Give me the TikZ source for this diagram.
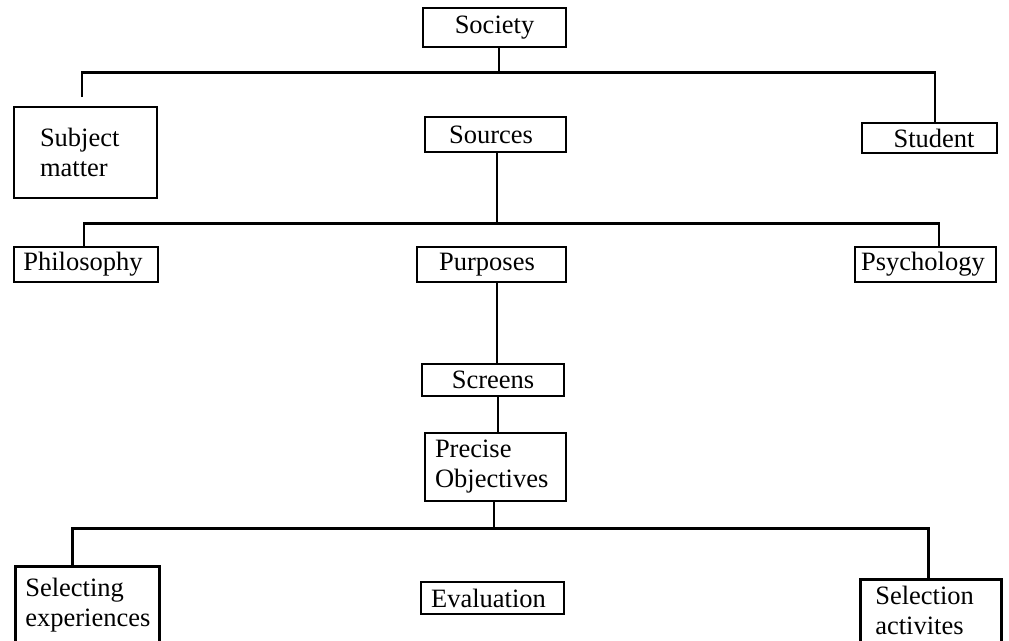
\documentclass[tikz,border=0pt]{standalone}
\usepackage{fontspec}
\setmainfont{Liberation Serif}
\begin{document}
\begin{tikzpicture}[x=1pt,y=-1pt,
  box/.style={draw=black, line width=2.6pt, fill=white, inner sep=0pt,
    font=\fontsize{26.5}{30}\selectfont},
  conn/.style={draw=black, line width=2.6pt, line join=miter}]
\useasboundingbox (0,0) rectangle (1009,640);
\clip (0,0) rectangle (1009,640);
\fill[white] (0,0) rectangle (1009,640);

% nodes
\node[box, minimum width=143pt, minimum height=39pt] (society) at (494.5,27.5) {Society};
\node[box, minimum height=91pt, inner xsep=26pt, text width=91pt, align=left] (subject) at (85.5,152.5) {Subject\\matter};
\node[box, minimum width=141pt, minimum height=35pt] (sources) at (495.5,134.5) {\hspace*{-9pt}Sources};
\node[box, minimum width=135pt, minimum height=30pt] (student) at (929.5,138) {\hspace*{9pt}Student};

\node[box, minimum width=144pt, minimum height=35pt] (philosophy) at (86,264.5) {\hspace*{-6pt}Philosophy};
\node[box, minimum width=149pt, minimum height=35pt] (purposes) at (491.5,264.5) {\hspace*{-9pt}Purposes};
\node[box, minimum width=141pt, minimum height=35pt] (psychology) at (925.5,264.5) {\hspace*{-5pt}Psychology};

\node[box, minimum width=142pt, minimum height=32pt] (screens) at (493,380) {Screens};
\node[box, minimum height=68pt, inner xsep=10pt, text width=121pt, align=left] (precise) at (495.5,467) {Precise\\Objectives};

\node[box, anchor=north west, inner xsep=10pt, inner ysep=12pt, text width=124pt, align=left] (selecting) at (14,565) {Selecting\\experiences};
\node[box, minimum width=143pt, minimum height=32pt] (evaluation) at (492.5,598) {\hspace*{-8pt}Evaluation};
\node[box, anchor=north west, inner xsep=15pt, inner ysep=7pt, text width=111pt, align=left] (selection) at (859,578) {Selection\\activites};

% connectors
\coordinate (subjtop) at (82,97);
\draw[conn] ([xshift=4.5pt]society.south) -- ++(0,24) coordinate (bus1);
\draw[conn] (subjtop) |- (bus1) -| ([xshift=5.5pt]student.north);

\draw[conn] ([xshift=1.5pt]sources.south) -- ++(0,70) coordinate (bus2);
\draw[conn] ([xshift=-2pt]philosophy.north) |- (bus2) -| ([xshift=13.5pt]psychology.north);

\draw[conn] ([xshift=5.5pt]purposes.south) -- ([xshift=4pt]screens.north);
\draw[conn] ([xshift=5pt]screens.south) -- ([xshift=2.5pt]precise.north);

\draw[conn] ([xshift=-1.5pt]precise.south) -- ++(0,26) coordinate (bus3);
\draw[conn] ([xshift=-15pt]selecting.north) |- (bus3) -| ([xshift=-2.5pt]selection.north);
\end{tikzpicture}
\end{document}
